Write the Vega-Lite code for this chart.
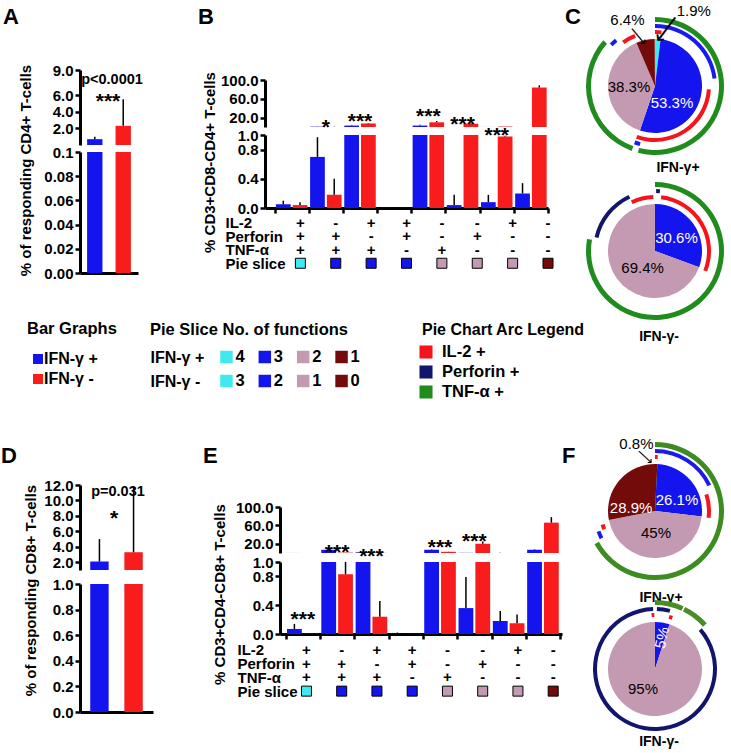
{
"$schema": "https://vega.github.io/schema/vega-lite/v6.json",
"padding": 0,
"background": "white",
"spacing": 0,
"bounds": "full",
"resolve": {"scale": {"color": "independent", "xOffset": "independent", "theta": "independent"}},
"config": {
  "font": "Liberation Sans",
  "view": {"stroke": null},
  "axis": {"grid": false, "domainColor": "#000", "domainWidth": 3, "tickColor": "#000", "tickWidth": 2.5, "tickSize": 5, "labelFontSize": 15, "labelFontWeight": "bold", "labelColor": "#000", "labelPadding": 2, "labelFlush": false, "labelOverlap": false, "titleFontSize": 15, "titleFontWeight": "bold", "titleColor": "#000"},
  "title": {"fontWeight": "bold", "color": "#000", "offset": 0, "anchor": "start", "frame": "group"}
},
"datasets": {
  "a": [{"ifn": "IFN-γ +", "v": 0.7, "e": 1.0}, {"ifn": "IFN-γ -", "v": 2.3, "e": 5.5}],
  "d": [{"ifn": "IFN-γ +", "v": 2.1, "e": 5.0}, {"ifn": "IFN-γ -", "v": 3.3, "e": 11.8}],
  "cd4": [
    {"g": "1", "ifn": "IFN-γ +", "v": 0.05, "e": 0.10}, {"g": "1", "ifn": "IFN-γ -", "v": 0.04, "e": 0.08},
    {"g": "2", "ifn": "IFN-γ +", "v": 0.70, "e": 0.97}, {"g": "2", "ifn": "IFN-γ -", "v": 0.18, "e": 0.40},
    {"g": "3", "ifn": "IFN-γ +", "v": 3.0, "e": 4.0}, {"g": "3", "ifn": "IFN-γ -", "v": 7.5, "e": 8.5},
    {"g": "4", "ifn": "IFN-γ +", "v": 0.002, "e": 0.004}, {"g": "4", "ifn": "IFN-γ -", "v": 0.001, "e": 0.002},
    {"g": "5", "ifn": "IFN-γ +", "v": 3.0, "e": 5.0}, {"g": "5", "ifn": "IFN-γ -", "v": 10.0, "e": 13.0},
    {"g": "6", "ifn": "IFN-γ +", "v": 0.04, "e": 0.18}, {"g": "6", "ifn": "IFN-γ -", "v": 7.0, "e": 8.0},
    {"g": "7", "ifn": "IFN-γ +", "v": 0.08, "e": 0.18}, {"g": "7", "ifn": "IFN-γ -", "v": 0.98, "e": 0.99},
    {"g": "8", "ifn": "IFN-γ +", "v": 0.20, "e": 0.34}, {"g": "8", "ifn": "IFN-γ -", "v": 84.0, "e": 88.6}
  ],
  "cd8": [
    {"g": "1", "ifn": "IFN-γ +", "v": 0.07, "e": 0.14}, {"g": "1", "ifn": "IFN-γ -", "v": 0.003, "e": 0.005},
    {"g": "2", "ifn": "IFN-γ +", "v": 7.0, "e": 8.0}, {"g": "2", "ifn": "IFN-γ -", "v": 0.83, "e": 1.0},
    {"g": "3", "ifn": "IFN-γ +", "v": 1.5, "e": 2.0}, {"g": "3", "ifn": "IFN-γ -", "v": 0.24, "e": 0.46},
    {"g": "4", "ifn": "IFN-γ +", "v": 0.003, "e": 0.02}, {"g": "4", "ifn": "IFN-γ -", "v": 0.002, "e": 0.01},
    {"g": "5", "ifn": "IFN-γ +", "v": 7.0, "e": 8.0}, {"g": "5", "ifn": "IFN-γ -", "v": 2.5, "e": 3.0},
    {"g": "6", "ifn": "IFN-γ +", "v": 0.36, "e": 0.79}, {"g": "6", "ifn": "IFN-γ -", "v": 20.0, "e": 25.0},
    {"g": "7", "ifn": "IFN-γ +", "v": 0.18, "e": 0.32}, {"g": "7", "ifn": "IFN-γ -", "v": 0.15, "e": 0.27},
    {"g": "8", "ifn": "IFN-γ +", "v": 7.0, "e": 8.0}, {"g": "8", "ifn": "IFN-γ -", "v": 66.0, "e": 78.0}
  ],
  "sig4": [{"g": "2", "s": "*", "lvl": 1.02}, {"g": "3", "s": "***", "lvl": 1.09}, {"g": "5", "s": "***", "lvl": 1.16}, {"g": "6", "s": "***", "lvl": 1.06}, {"g": "7", "s": "***", "lvl": 0.91}],
  "sig8": [{"g": "1", "s": "***", "lvl": 0.107}, {"g": "2", "s": "***", "lvl": 1.04}, {"g": "3", "s": "***", "lvl": 0.98}, {"g": "5", "s": "***", "lvl": 1.11}, {"g": "6", "s": "***", "lvl": 1.20}],
  "groups": [
    {"g": "1", "IL-2": "+", "Perforin": "+", "TNF-α": "+", "slice": "c4"},
    {"g": "2", "IL-2": "-", "Perforin": "+", "TNF-α": "+", "slice": "c3"},
    {"g": "3", "IL-2": "+", "Perforin": "-", "TNF-α": "+", "slice": "c3"},
    {"g": "4", "IL-2": "+", "Perforin": "+", "TNF-α": "-", "slice": "c3"},
    {"g": "5", "IL-2": "-", "Perforin": "-", "TNF-α": "+", "slice": "c2"},
    {"g": "6", "IL-2": "-", "Perforin": "+", "TNF-α": "-", "slice": "c2"},
    {"g": "7", "IL-2": "+", "Perforin": "-", "TNF-α": "-", "slice": "c2"},
    {"g": "8", "IL-2": "-", "Perforin": "-", "TNF-α": "-", "slice": "c1"}
  ],
  "slices": [
    {"pie": "C+", "k": "c4", "pct": 1.9, "o": 1}, {"pie": "C+", "k": "c3", "pct": 53.3, "o": 2}, {"pie": "C+", "k": "c2", "pct": 38.3, "o": 3}, {"pie": "C+", "k": "c1", "pct": 6.4, "o": 4},
    {"pie": "C-", "k": "c3", "pct": 30.6, "o": 1}, {"pie": "C-", "k": "c2", "pct": 69.4, "o": 2},
    {"pie": "F+", "k": "c4", "pct": 0.8, "o": 1}, {"pie": "F+", "k": "c3", "pct": 26.1, "o": 2}, {"pie": "F+", "k": "c2", "pct": 45, "o": 3}, {"pie": "F+", "k": "c1", "pct": 28.9, "o": 4},
    {"pie": "F-", "k": "c3", "pct": 5, "o": 1}, {"pie": "F-", "k": "c2", "pct": 95, "o": 2}
  ],
  "rings": [
    {"pie": "C+", "ring": "IL-2", "t0": 0, "t1": 1.9}, {"pie": "C+", "ring": "IL-2", "t0": 26, "t1": 55.5}, {"pie": "C+", "ring": "IL-2", "t0": 90, "t1": 94},
    {"pie": "C+", "ring": "Perforin", "t0": 0, "t1": 23}, {"pie": "C+", "ring": "Perforin", "t0": 54, "t1": 55.5}, {"pie": "C+", "ring": "Perforin", "t0": 87, "t1": 88.8},
    {"pie": "C+", "ring": "TNF-α", "t0": 0, "t1": 54}, {"pie": "C+", "ring": "TNF-α", "t0": 55.5, "t1": 86.5},
    {"pie": "C-", "ring": "IL-2", "t0": 1.8, "t1": 31}, {"pie": "C-", "ring": "IL-2", "t0": 92.9, "t1": 99.5},
    {"pie": "C-", "ring": "Perforin", "t0": 0.3, "t1": 1.3}, {"pie": "C-", "ring": "Perforin", "t0": 78.6, "t1": 93},
    {"pie": "C-", "ring": "TNF-α", "t0": 0, "t1": 77.8},
    {"pie": "F+", "ring": "IL-2", "t0": 0, "t1": 0.8}, {"pie": "F+", "ring": "IL-2", "t0": 20, "t1": 27}, {"pie": "F+", "ring": "IL-2", "t0": 69.5, "t1": 71},
    {"pie": "F+", "ring": "Perforin", "t0": 0, "t1": 18}, {"pie": "F+", "ring": "Perforin", "t0": 67.5, "t1": 69.5},
    {"pie": "F+", "ring": "TNF-α", "t0": 0, "t1": 67},
    {"pie": "F-", "ring": "IL-2", "t0": 4.2, "t1": 5.2}, {"pie": "F-", "ring": "IL-2", "t0": 99, "t1": 99.8},
    {"pie": "F-", "ring": "Perforin", "t0": 0.5, "t1": 4}, {"pie": "F-", "ring": "Perforin", "t0": 13.6, "t1": 99.5},
    {"pie": "F-", "ring": "TNF-α", "t0": 0, "t1": 6.8}, {"pie": "F-", "ring": "TNF-α", "t0": 7.2, "t1": 13.5}
  ]
},
"hconcat": [
{
  "vconcat": [
    {
      "hconcat": [
        {"width": 3, "height": 1, "data": {"values": []}, "mark": "point"},
        {
          "vconcat": [
            {"width": 70, "height": 70, "data": {"values": []}, "mark": "point", "title": {"text": "A", "fontSize": 22, "dx": -77, "dy": 33}},
            {
              "width": 58, "height": 75,
              "layer": [
                {"data": {"name": "a"}, "mark": {"type": "bar", "clip": true},
                 "encoding": {
                   "x": {"field": "ifn", "type": "nominal", "scale": {"domain": ["IFN-γ +", "IFN-γ -"], "paddingInner": 0.46, "paddingOuter": 0.25}, "axis": null},
                   "y": {"field": "v", "type": "quantitative", "scale": {"domain": [0.5, 9]}, "axis": {"values": [2, 4, 6, 9], "tickCount": 20, "format": ".1f", "title": null, "labelOverlap": false}},
                   "y2": {"datum": 0},
                   "color": {"field": "ifn", "type": "nominal", "scale": {"domain": ["IFN-γ +", "IFN-γ -"], "range": ["#1414EE", "#F81C1C"]}, "legend": null}}},
                {"data": {"name": "a"}, "mark": {"type": "rule", "clip": true, "color": "#000", "strokeWidth": 1.5},
                 "encoding": {"x": {"field": "ifn", "type": "nominal"}, "y": {"field": "v", "type": "quantitative"}, "y2": {"field": "e"}}},
                {"data": {"values": [{"t": "p<0.0001"}]}, "mark": {"type": "text", "fontSize": 14.5, "fontWeight": "bold", "baseline": "alphabetic", "dx": 3},
                 "encoding": {"text": {"field": "t"}, "y": {"datum": 7.3}}},
                {"data": {"values": [{"t": "***"}]}, "mark": {"type": "text", "fontSize": 21, "fontWeight": "bold", "baseline": "alphabetic", "dx": -1},
                 "encoding": {"text": {"field": "t"}, "y": {"datum": 4.5}}}
              ]
            },
            {"width": 58, "height": 7, "data": {"values": []}, "mark": "point"},
            {
              "width": 58, "height": 121,
              "data": {"name": "a"},
              "encoding": {"x": {"field": "ifn", "type": "nominal", "scale": {"domain": ["IFN-γ +", "IFN-γ -"], "paddingInner": 0.46, "paddingOuter": 0.25}, "axis": {"labels": false, "ticks": false, "title": null}}},
              "layer": [
                {"mark": {"type": "bar", "clip": true},
                 "encoding": {
                   "y": {"field": "v", "type": "quantitative", "scale": {"domain": [0, 0.1]}, "axis": {"values": [0, 0.02, 0.04, 0.06, 0.08, 0.1], "tickCount": 20, "labelOverlap": false, "labelExpr": "datum.value > 0.099 ? '0.1' : format(datum.value, '.2f')", "title": "% of responding CD4+ T-cells", "titleX": -46.7, "titleY": 18}},
                   "y2": {"datum": 0},
                   "color": {"field": "ifn", "type": "nominal", "scale": {"domain": ["IFN-γ +", "IFN-γ -"], "range": ["#1414EE", "#F81C1C"]}, "legend": null}}},
                {"mark": {"type": "rule", "clip": true, "color": "#000", "strokeWidth": 1.5},
                 "encoding": {"y": {"field": "v", "type": "quantitative"}, "y2": {"field": "e"}}}
              ]
            },
            {"width": 58, "height": 47, "data": {"values": []}, "mark": "point"}
          ],
          "spacing": 0, "bounds": "flush",
          "resolve": {"scale": {"color": "independent", "xOffset": "independent", "theta": "independent"}}
        },
        {"width": 48, "height": 1, "data": {"values": []}, "mark": "point"},
        {
          "vconcat": [
            {"width": 321, "height": 1, "data": {"values": []}, "mark": "point", "title": {"text": "C", "fontSize": 22, "dx": 300, "dy": 33}},
            {"width": 283, "height": 79, "data": {"values": []}, "mark": "point", "title": {"text": "B", "fontSize": 22, "dx": -67, "dy": 32}},
            {
              "width": 283, "height": 47,
              "data": {"name": "cd4"},
              "encoding": {"x": {"field": "g", "type": "nominal", "scale": {"domain": ["1", "2", "3", "4", "5", "6", "7", "8"], "paddingInner": 0, "paddingOuter": 0.14, "align": 1}, "axis": null}},
              "layer": [
                {"mark": {"type": "bar", "clip": true},
                 "encoding": {
                   "xOffset": {"field": "ifn", "type": "nominal", "scale": {"domain": ["IFN-γ +", "IFN-γ -"], "paddingInner": 0.12, "paddingOuter": 0.08}},
                   "y": {"field": "v", "type": "quantitative", "scale": {"domain": [6, 100]}, "axis": {"values": [20, 60, 100], "tickCount": 20, "format": ".1f", "title": null, "labelOverlap": false}},
                   "y2": {"datum": 0},
                   "color": {"field": "ifn", "type": "nominal", "scale": {"domain": ["IFN-γ +", "IFN-γ -"], "range": ["#1414EE", "#F81C1C"]}, "legend": null}}},
                {"mark": {"type": "rule", "clip": true, "color": "#000", "strokeWidth": 1.5},
                 "encoding": {"xOffset": {"field": "ifn", "type": "nominal"}, "y": {"field": "v", "type": "quantitative"}, "y2": {"field": "e"}}}
              ]
            },
            {"width": 283, "height": 8, "data": {"values": []}, "mark": "point"},
            {
              "width": 283, "height": 73,
              "encoding": {"x": {"field": "g", "type": "nominal", "scale": {"domain": ["1", "2", "3", "4", "5", "6", "7", "8"], "paddingInner": 0, "paddingOuter": 0.14, "align": 1}, "axis": {"labels": false, "title": null, "tickBand": "extent"}}},
              "layer": [
                {"data": {"name": "cd4"}, "mark": {"type": "bar", "clip": true},
                 "encoding": {
                   "xOffset": {"field": "ifn", "type": "nominal", "scale": {"domain": ["IFN-γ +", "IFN-γ -"], "paddingInner": 0.12, "paddingOuter": 0.08}},
                   "y": {"field": "v", "type": "quantitative", "scale": {"domain": [0, 1]}, "axis": {"values": [0, 0.4, 0.8, 1.0], "tickCount": 20, "format": ".1f", "labelOverlap": false, "title": "% CD3+CD8-CD4+ T-cells", "titleX": -48, "titleY": 27}},
                   "y2": {"datum": 0},
                   "color": {"field": "ifn", "type": "nominal", "scale": {"domain": ["IFN-γ +", "IFN-γ -"], "range": ["#1414EE", "#F81C1C"]}, "legend": null}}},
                {"data": {"name": "cd4"}, "mark": {"type": "rule", "clip": true, "color": "#000", "strokeWidth": 1.5},
                 "encoding": {"xOffset": {"field": "ifn", "type": "nominal"}, "y": {"field": "v", "type": "quantitative"}, "y2": {"field": "e"}}},
                {"data": {"name": "sig4"}, "mark": {"type": "text", "fontSize": 21, "fontWeight": "bold", "baseline": "alphabetic"},
                 "encoding": {"y": {"field": "lvl", "type": "quantitative"}, "text": {"field": "s"}}}
              ]
            },
            {"width": 283, "height": 8, "data": {"values": []}, "mark": "point"},
            {
              "width": 283, "height": 54,
              "data": {"name": "groups"},
              "encoding": {"x": {"field": "g", "type": "nominal", "scale": {"domain": ["1", "2", "3", "4", "5", "6", "7", "8"], "paddingInner": 0, "paddingOuter": 0.14, "align": 1}, "axis": null}},
              "layer": [
                {"transform": [{"fold": ["IL-2", "Perforin", "TNF-α"], "as": ["row", "sign"]}],
                 "mark": {"type": "text", "fontSize": 15, "fontWeight": "bold", "baseline": "middle"},
                 "encoding": {
                   "y": {"field": "row", "type": "nominal", "scale": {"type": "point", "domain": ["IL-2", "Perforin", "TNF-α", "Pie slice"], "padding": 0.5}, "axis": {"title": null, "domain": false, "ticks": false, "tickSize": 0, "labelAlign": "left", "labelPadding": 40, "labelBaseline": "middle", "labelOverlap": false}},
                   "text": {"field": "sign"}}},
                {"mark": {"type": "square", "size": 100, "opacity": 1, "stroke": "#000", "strokeWidth": 1},
                 "encoding": {
                   "y": {"datum": "Pie slice", "type": "nominal"},
                   "color": {"field": "slice", "type": "nominal", "scale": {"domain": ["c4", "c3", "c2", "c1"], "range": ["#40E8F0", "#1414EE", "#C49AB2", "#740B0B"]}, "legend": null}}}
              ]
            },
            {"width": 283, "height": 50, "data": {"values": []}, "mark": "point"}
          ],
          "spacing": 0, "bounds": "flush",
          "resolve": {"scale": {"color": "independent", "xOffset": "independent", "theta": "independent"}}
        }
      ],
      "spacing": 0, "bounds": "full",
      "resolve": {"scale": {"color": "independent", "xOffset": "independent", "theta": "independent"}}
    },
    {
      "hconcat": [
        {"width": 33, "height": 121, "data": {"values": []}, "mark": "point"},
        {
          "width": 10, "height": 60,
          "title": {"text": "Bar Graphs", "fontSize": 16.5, "dx": -6, "dy": 17},
          "data": {"values": [{"k": "IFN-γ +"}, {"k": "IFN-γ -"}]},
          "encoding": {"y": {"field": "k", "type": "nominal", "scale": {"type": "point", "domain": ["IFN-γ +", "IFN-γ -"], "padding": 1, "align": 0.875}, "axis": null}},
          "layer": [
            {"mark": {"type": "square", "size": 100, "opacity": 1},
             "encoding": {"color": {"field": "k", "type": "nominal", "scale": {"domain": ["IFN-γ +", "IFN-γ -"], "range": ["#1414EE", "#F81C1C"]}, "legend": null}}},
            {"mark": {"type": "text", "align": "left", "dx": 6, "fontSize": 16, "fontWeight": "bold", "baseline": "middle"},
             "encoding": {"text": {"field": "k"}}}
          ]
        },
        {"width": 164, "height": 1, "data": {"values": []}, "mark": "point"},
        {
          "width": 165, "height": 72,
          "title": {"text": "Pie Slice No. of functions", "fontSize": 16.5, "dx": -57, "dy": 18},
          "data": {"values": [
            {"r": "IFN-γ +", "c": "1", "n": "4", "s": "c4"}, {"r": "IFN-γ +", "c": "2", "n": "3", "s": "c3"}, {"r": "IFN-γ +", "c": "3", "n": "2", "s": "c2"}, {"r": "IFN-γ +", "c": "4", "n": "1", "s": "c1"},
            {"r": "IFN-γ -", "c": "1", "n": "3", "s": "c4"}, {"r": "IFN-γ -", "c": "2", "n": "2", "s": "c3"}, {"r": "IFN-γ -", "c": "3", "n": "1", "s": "c2"}, {"r": "IFN-γ -", "c": "4", "n": "0", "s": "c1"}
          ]},
          "encoding": {
            "x": {"field": "c", "type": "ordinal", "scale": {"type": "point", "padding": 0.65}, "axis": null},
            "y": {"field": "r", "type": "nominal", "scale": {"type": "point", "domain": ["IFN-γ +", "IFN-γ -"], "padding": 1, "align": 0.6875}, "axis": {"title": null, "domain": false, "ticks": false, "tickSize": 0, "labelAlign": "left", "labelPadding": 57, "labelFontSize": 16, "labelBaseline": "middle", "labelOverlap": false}}
          },
          "layer": [
            {"mark": {"type": "square", "size": 156, "opacity": 1, "xOffset": -5.5},
             "encoding": {"color": {"field": "s", "type": "nominal", "scale": {"domain": ["c4", "c3", "c2", "c1"], "range": ["#40E8F0", "#1414EE", "#C49AB2", "#740B0B"]}, "legend": null}}},
            {"mark": {"type": "text", "align": "left", "dx": 3.5, "fontSize": 16.5, "fontWeight": "bold", "baseline": "middle"},
             "encoding": {"text": {"field": "n"}}}
          ]
        },
        {"width": 47, "height": 1, "data": {"values": []}, "mark": "point"},
        {
          "width": 14, "height": 80,
          "title": {"text": "Pie Chart Arc Legend", "fontSize": 16, "dx": 3, "dy": 18},
          "data": {"values": [{"k": "IL-2 +"}, {"k": "Perforin +"}, {"k": "TNF-α +"}]},
          "encoding": {"y": {"field": "k", "type": "nominal", "scale": {"type": "point", "domain": ["IL-2 +", "Perforin +", "TNF-α +"], "padding": 1, "align": 0.7}, "axis": null}},
          "layer": [
            {"mark": {"type": "square", "size": 170, "opacity": 1},
             "encoding": {"color": {"field": "k", "type": "nominal", "scale": {"domain": ["IL-2 +", "Perforin +", "TNF-α +"], "range": ["#F5141B", "#11166C", "#208C1E"]}, "legend": null}}},
            {"mark": {"type": "text", "align": "left", "dx": 16, "fontSize": 16.5, "fontWeight": "bold", "baseline": "middle"},
             "encoding": {"text": {"field": "k"}}}
          ]
        }
      ],
      "spacing": 0, "bounds": "flush",
      "resolve": {"scale": {"color": "independent", "xOffset": "independent", "theta": "independent"}}
    },
    {
      "hconcat": [
        {"width": 1, "height": 1, "data": {"values": []}, "mark": "point"},
        {
          "vconcat": [
            {"width": 80, "height": 39, "data": {"values": []}, "mark": "point", "title": {"text": "D", "fontSize": 22, "dx": -79, "dy": 26}},
            {
              "width": 73, "height": 85,
              "layer": [
                {"data": {"name": "d"}, "mark": {"type": "bar", "clip": true},
                 "encoding": {
                   "x": {"field": "ifn", "type": "nominal", "scale": {"domain": ["IFN-γ +", "IFN-γ -"], "paddingInner": 0.46, "paddingOuter": 0.3}, "axis": null},
                   "y": {"field": "v", "type": "quantitative", "scale": {"domain": [1.2, 12]}, "axis": {"values": [2, 4, 6, 8, 10, 12], "tickCount": 20, "format": ".1f", "title": null, "labelOverlap": false}},
                   "y2": {"datum": 0},
                   "color": {"field": "ifn", "type": "nominal", "scale": {"domain": ["IFN-γ +", "IFN-γ -"], "range": ["#1414EE", "#F81C1C"]}, "legend": null}}},
                {"data": {"name": "d"}, "mark": {"type": "rule", "clip": true, "color": "#000", "strokeWidth": 1.5},
                 "encoding": {"x": {"field": "ifn", "type": "nominal"}, "y": {"field": "v", "type": "quantitative"}, "y2": {"field": "e"}}},
                {"data": {"values": [{"t": "p=0.031"}]}, "mark": {"type": "text", "fontSize": 14.5, "fontWeight": "bold", "baseline": "alphabetic", "dx": 1.5},
                 "encoding": {"text": {"field": "t"}, "y": {"datum": 10.6}}},
                {"data": {"values": [{"t": "*"}]}, "mark": {"type": "text", "fontSize": 21, "fontWeight": "bold", "baseline": "alphabetic", "dx": -2.5},
                 "encoding": {"text": {"field": "t"}, "y": {"datum": 6.8}}}
              ]
            },
            {"width": 73, "height": 14, "data": {"values": []}, "mark": "point"},
            {
              "width": 73, "height": 128,
              "data": {"name": "d"},
              "encoding": {"x": {"field": "ifn", "type": "nominal", "scale": {"domain": ["IFN-γ +", "IFN-γ -"], "paddingInner": 0.46, "paddingOuter": 0.3}, "axis": {"labels": false, "ticks": false, "title": null}}},
              "layer": [
                {"mark": {"type": "bar", "clip": true},
                 "encoding": {
                   "y": {"field": "v", "type": "quantitative", "scale": {"domain": [0, 1]}, "axis": {"values": [0, 0.2, 0.4, 0.6, 0.8, 1.0], "tickCount": 20, "format": ".1f", "labelOverlap": false, "title": "% of responding CD8+ T-cells", "titleX": -41.7, "titleY": 6}},
                   "y2": {"datum": 0},
                   "color": {"field": "ifn", "type": "nominal", "scale": {"domain": ["IFN-γ +", "IFN-γ -"], "range": ["#1414EE", "#F81C1C"]}, "legend": null}}},
                {"mark": {"type": "rule", "clip": true, "color": "#000", "strokeWidth": 1.5},
                 "encoding": {"y": {"field": "v", "type": "quantitative"}, "y2": {"field": "e"}}}
              ]
            }
          ],
          "spacing": 0, "bounds": "flush",
          "resolve": {"scale": {"color": "independent", "xOffset": "independent", "theta": "independent"}}
        },
        {"width": 43, "height": 1, "data": {"values": []}, "mark": "point"},
        {
          "vconcat": [
            {"width": 306, "height": 1, "data": {"values": []}, "mark": "point", "title": {"text": "F", "fontSize": 22, "dx": 282, "dy": 26}},
            {"width": 282, "height": 60, "data": {"values": []}, "mark": "point", "title": {"text": "E", "fontSize": 22, "dx": -77, "dy": 25}},
            {
              "width": 282, "height": 46,
              "data": {"name": "cd8"},
              "encoding": {"x": {"field": "g", "type": "nominal", "scale": {"domain": ["1", "2", "3", "4", "5", "6", "7", "8"], "paddingInner": 0, "paddingOuter": 0.11, "align": 0.75}, "axis": null}},
              "layer": [
                {"mark": {"type": "bar", "clip": true},
                 "encoding": {
                   "xOffset": {"field": "ifn", "type": "nominal", "scale": {"domain": ["IFN-γ +", "IFN-γ -"], "paddingInner": 0.12, "paddingOuter": 0.08}},
                   "y": {"field": "v", "type": "quantitative", "scale": {"domain": [3, 100]}, "axis": {"values": [20, 60, 100], "tickCount": 20, "format": ".1f", "title": null, "labelOverlap": false}},
                   "y2": {"datum": 0},
                   "color": {"field": "ifn", "type": "nominal", "scale": {"domain": ["IFN-γ +", "IFN-γ -"], "range": ["#1414EE", "#F81C1C"]}, "legend": null}}},
                {"mark": {"type": "rule", "clip": true, "color": "#000", "strokeWidth": 1.5},
                 "encoding": {"xOffset": {"field": "ifn", "type": "nominal"}, "y": {"field": "v", "type": "quantitative"}, "y2": {"field": "e"}}}
              ]
            },
            {"width": 282, "height": 9, "data": {"values": []}, "mark": "point"},
            {
              "width": 282, "height": 72,
              "encoding": {"x": {"field": "g", "type": "nominal", "scale": {"domain": ["1", "2", "3", "4", "5", "6", "7", "8"], "paddingInner": 0, "paddingOuter": 0.11, "align": 0.75}, "axis": {"labels": false, "title": null, "tickBand": "extent"}}},
              "layer": [
                {"data": {"name": "cd8"}, "mark": {"type": "bar", "clip": true},
                 "encoding": {
                   "xOffset": {"field": "ifn", "type": "nominal", "scale": {"domain": ["IFN-γ +", "IFN-γ -"], "paddingInner": 0.12, "paddingOuter": 0.08}},
                   "y": {"field": "v", "type": "quantitative", "scale": {"domain": [0, 1]}, "axis": {"values": [0, 0.4, 0.8, 1.0], "tickCount": 20, "format": ".1f", "labelOverlap": false, "title": "% CD3+CD4-CD8+ T-cells", "titleX": -53, "titleY": 32}},
                   "y2": {"datum": 0},
                   "color": {"field": "ifn", "type": "nominal", "scale": {"domain": ["IFN-γ +", "IFN-γ -"], "range": ["#1414EE", "#F81C1C"]}, "legend": null}}},
                {"data": {"name": "cd8"}, "mark": {"type": "rule", "clip": true, "color": "#000", "strokeWidth": 1.5},
                 "encoding": {"xOffset": {"field": "ifn", "type": "nominal"}, "y": {"field": "v", "type": "quantitative"}, "y2": {"field": "e"}}},
                {"data": {"name": "sig8"}, "mark": {"type": "text", "fontSize": 21, "fontWeight": "bold", "baseline": "alphabetic"},
                 "encoding": {"y": {"field": "lvl", "type": "quantitative"}, "text": {"field": "s"}}}
              ]
            },
            {"width": 282, "height": 9, "data": {"values": []}, "mark": "point"},
            {
              "width": 282, "height": 55,
              "data": {"name": "groups"},
              "encoding": {"x": {"field": "g", "type": "nominal", "scale": {"domain": ["1", "2", "3", "4", "5", "6", "7", "8"], "paddingInner": 0, "paddingOuter": 0.11, "align": 0.75}, "axis": null}},
              "layer": [
                {"transform": [{"fold": ["IL-2", "Perforin", "TNF-α"], "as": ["row", "sign"]}],
                 "mark": {"type": "text", "fontSize": 15, "fontWeight": "bold", "baseline": "middle"},
                 "encoding": {
                   "y": {"field": "row", "type": "nominal", "scale": {"type": "point", "domain": ["IL-2", "Perforin", "TNF-α", "Pie slice"], "padding": 0.5}, "axis": {"title": null, "domain": false, "ticks": false, "tickSize": 0, "labelAlign": "left", "labelPadding": 43, "labelBaseline": "middle", "labelOverlap": false}},
                   "text": {"field": "sign"}}},
                {"mark": {"type": "square", "size": 100, "opacity": 1, "stroke": "#000", "strokeWidth": 1},
                 "encoding": {
                   "y": {"datum": "Pie slice", "type": "nominal"},
                   "color": {"field": "slice", "type": "nominal", "scale": {"domain": ["c4", "c3", "c2", "c1"], "range": ["#40E8F0", "#1414EE", "#C49AB2", "#740B0B"]}, "legend": null}}}
              ]
            }
          ],
          "spacing": 0, "bounds": "flush",
          "resolve": {"scale": {"color": "independent", "xOffset": "independent", "theta": "independent"}}
        }
      ],
      "spacing": 0, "bounds": "full",
      "resolve": {"scale": {"color": "independent", "xOffset": "independent", "theta": "independent"}}
    }
  ],
  "spacing": 0, "bounds": "full",
  "resolve": {"scale": {"color": "independent", "xOffset": "independent", "theta": "independent"}}
},
{
  "vconcat": [
    {"width": 138, "height": 17, "data": {"values": []}, "mark": "point"},
    {
      "width": 138, "height": 138,
      "title": {"text": "IFN-γ+", "orient": "bottom", "anchor": "middle", "fontSize": 14, "dx": 23, "dy": 2},
      "layer": [
        {"data": {"name": "slices"}, "transform": [{"filter": "datum.pie == 'C+'"}], "mark": {"type": "arc", "radius": 47},
         "encoding": {"theta": {"field": "pct", "type": "quantitative", "stack": true, "scale": {"domain": [0, 100], "range": [0, 6.283185307179586]}}, "order": {"field": "o", "type": "quantitative"},
           "color": {"field": "k", "type": "nominal", "scale": {"domain": ["c4", "c3", "c2", "c1", "IL-2", "Perforin", "TNF-α"], "range": ["#40E8F0", "#1414EE", "#C49AB2", "#740B0B", "#F5141B", "#1A1AEE", "#208C1E"]}, "legend": null}}},
        {"data": {"name": "rings"}, "transform": [{"filter": "datum.pie == 'C+' && datum.ring == 'IL-2'"}], "mark": {"type": "arc", "radius": 56, "radius2": 52},
         "encoding": {"theta": {"field": "t0", "type": "quantitative", "stack": null}, "theta2": {"field": "t1"}, "color": {"field": "ring", "type": "nominal"}}},
        {"data": {"name": "rings"}, "transform": [{"filter": "datum.pie == 'C+' && datum.ring == 'Perforin'"}], "mark": {"type": "arc", "radius": 62, "radius2": 58},
         "encoding": {"theta": {"field": "t0", "type": "quantitative", "stack": null}, "theta2": {"field": "t1"}, "color": {"field": "ring", "type": "nominal"}}},
        {"data": {"name": "rings"}, "transform": [{"filter": "datum.pie == 'C+' && datum.ring == 'TNF-α'"}], "mark": {"type": "arc", "radius": 69, "radius2": 64},
         "encoding": {"theta": {"field": "t0", "type": "quantitative", "stack": null}, "theta2": {"field": "t1"}, "color": {"field": "ring", "type": "nominal"}}},
        {"data": {"values": [{"t": "53.3%"}]}, "mark": {"type": "text", "radius": 24, "fontSize": 15, "color": "#fff", "baseline": "middle"},
         "encoding": {"theta": {"datum": 37.5, "type": "quantitative"}, "text": {"field": "t"}}},
        {"data": {"values": [{"t": "38.3%"}]}, "mark": {"type": "text", "radius": 26, "fontSize": 15, "color": "#000", "baseline": "middle"},
         "encoding": {"theta": {"datum": 74.5, "type": "quantitative"}, "text": {"field": "t"}}},
        {"data": {"values": [{"t": "6.4%"}]}, "mark": {"type": "text", "radius": 71.5, "fontSize": 15, "color": "#000", "baseline": "middle"},
         "encoding": {"theta": {"datum": 93.7, "type": "quantitative"}, "text": {"field": "t"}}},
        {"data": {"values": [{"t": "1.9%"}]}, "mark": {"type": "text", "radius": 84.5, "fontSize": 15, "color": "#000", "baseline": "middle"},
         "encoding": {"theta": {"datum": 7.6, "type": "quantitative"}, "text": {"field": "t"}}},
        {"data": {"values": [{"t": "⟶"}]}, "mark": {"type": "text", "radius": 58, "angle": 127, "font": "DejaVu Sans", "fontSize": 22, "color": "#000", "baseline": "middle"},
         "encoding": {"theta": {"datum": 3.2, "type": "quantitative"}, "text": {"field": "t"}}},
        {"data": {"values": [{"t": "⟶"}]}, "mark": {"type": "text", "radius": 52.6, "angle": 50, "font": "DejaVu Sans", "fontSize": 15, "color": "#000", "baseline": "middle"},
         "encoding": {"theta": {"datum": 94.9, "type": "quantitative"}, "text": {"field": "t"}}}
      ]
    },
    {"width": 138, "height": 27, "data": {"values": []}, "mark": "point"},
    {
      "width": 138, "height": 138,
      "title": {"text": "IFN-γ-", "orient": "bottom", "anchor": "middle", "fontSize": 14, "dx": 4, "dy": 6},
      "layer": [
        {"data": {"name": "slices"}, "transform": [{"filter": "datum.pie == 'C-'"}], "mark": {"type": "arc", "radius": 47},
         "encoding": {"theta": {"field": "pct", "type": "quantitative", "stack": true, "scale": {"domain": [0, 100], "range": [0, 6.283185307179586]}}, "order": {"field": "o", "type": "quantitative"},
           "color": {"field": "k", "type": "nominal", "scale": {"domain": ["c4", "c3", "c2", "c1", "IL-2", "Perforin", "TNF-α"], "range": ["#40E8F0", "#1414EE", "#C49AB2", "#740B0B", "#F5141B", "#11166C", "#208C1E"]}, "legend": null}}},
        {"data": {"name": "rings"}, "transform": [{"filter": "datum.pie == 'C-' && datum.ring == 'IL-2'"}], "mark": {"type": "arc", "radius": 56, "radius2": 52},
         "encoding": {"theta": {"field": "t0", "type": "quantitative", "stack": null}, "theta2": {"field": "t1"}, "color": {"field": "ring", "type": "nominal"}}},
        {"data": {"name": "rings"}, "transform": [{"filter": "datum.pie == 'C-' && datum.ring == 'Perforin'"}], "mark": {"type": "arc", "radius": 62, "radius2": 58},
         "encoding": {"theta": {"field": "t0", "type": "quantitative", "stack": null}, "theta2": {"field": "t1"}, "color": {"field": "ring", "type": "nominal"}}},
        {"data": {"name": "rings"}, "transform": [{"filter": "datum.pie == 'C-' && datum.ring == 'TNF-α'"}], "mark": {"type": "arc", "radius": 69, "radius2": 64},
         "encoding": {"theta": {"field": "t0", "type": "quantitative", "stack": null}, "theta2": {"field": "t1"}, "color": {"field": "ring", "type": "nominal"}}},
        {"data": {"values": [{"t": "30.6%"}]}, "mark": {"type": "text", "radius": 25.4, "fontSize": 15, "color": "#fff", "baseline": "middle"},
         "encoding": {"theta": {"datum": 16.1, "type": "quantitative"}, "text": {"field": "t"}}},
        {"data": {"values": [{"t": "69.4%"}]}, "mark": {"type": "text", "radius": 21, "fontSize": 15, "color": "#000", "baseline": "middle"},
         "encoding": {"theta": {"datum": 60.1, "type": "quantitative"}, "text": {"field": "t"}}}
      ]
    },
    {"width": 138, "height": 122, "data": {"values": []}, "mark": "point"},
    {
      "width": 138, "height": 138,
      "title": {"text": "IFN-γ+", "orient": "bottom", "anchor": "middle", "fontSize": 14, "dx": 6, "dy": 7},
      "layer": [
        {"data": {"name": "slices"}, "transform": [{"filter": "datum.pie == 'F+'"}], "mark": {"type": "arc", "radius": 47},
         "encoding": {"theta": {"field": "pct", "type": "quantitative", "stack": true, "scale": {"domain": [0, 100], "range": [0, 6.283185307179586]}}, "order": {"field": "o", "type": "quantitative"},
           "color": {"field": "k", "type": "nominal", "scale": {"domain": ["c4", "c3", "c2", "c1", "IL-2", "Perforin", "TNF-α"], "range": ["#40E8F0", "#1414EE", "#C49AB2", "#740B0B", "#F5141B", "#1A1AEE", "#3C8C22"]}, "legend": null}}},
        {"data": {"name": "rings"}, "transform": [{"filter": "datum.pie == 'F+' && datum.ring == 'IL-2'"}], "mark": {"type": "arc", "radius": 56, "radius2": 52},
         "encoding": {"theta": {"field": "t0", "type": "quantitative", "stack": null}, "theta2": {"field": "t1"}, "color": {"field": "ring", "type": "nominal"}}},
        {"data": {"name": "rings"}, "transform": [{"filter": "datum.pie == 'F+' && datum.ring == 'Perforin'"}], "mark": {"type": "arc", "radius": 62, "radius2": 58},
         "encoding": {"theta": {"field": "t0", "type": "quantitative", "stack": null}, "theta2": {"field": "t1"}, "color": {"field": "ring", "type": "nominal"}}},
        {"data": {"name": "rings"}, "transform": [{"filter": "datum.pie == 'F+' && datum.ring == 'TNF-α'"}], "mark": {"type": "arc", "radius": 69, "radius2": 64},
         "encoding": {"theta": {"field": "t0", "type": "quantitative", "stack": null}, "theta2": {"field": "t1"}, "color": {"field": "ring", "type": "nominal"}}},
        {"data": {"values": [{"t": "26.1%"}]}, "mark": {"type": "text", "radius": 24.6, "fontSize": 15, "color": "#fff", "baseline": "middle"},
         "encoding": {"theta": {"datum": 17.6, "type": "quantitative"}, "text": {"field": "t"}}},
        {"data": {"values": [{"t": "28.9%"}]}, "mark": {"type": "text", "radius": 24, "fontSize": 15, "color": "#fff", "baseline": "middle"},
         "encoding": {"theta": {"datum": 76.7, "type": "quantitative"}, "text": {"field": "t"}}},
        {"data": {"values": [{"t": "45%"}]}, "mark": {"type": "text", "radius": 22.5, "fontSize": 15, "color": "#000", "baseline": "middle"},
         "encoding": {"theta": {"datum": 49.3, "type": "quantitative"}, "text": {"field": "t"}}},
        {"data": {"values": [{"t": "0.8%"}]}, "mark": {"type": "text", "radius": 69.5, "fontSize": 15, "color": "#000", "baseline": "middle"},
         "encoding": {"theta": {"datum": 95.7, "type": "quantitative"}, "text": {"field": "t"}}},
        {"data": {"values": [{"t": "⟶"}]}, "mark": {"type": "text", "radius": 55, "angle": 43, "font": "DejaVu Sans", "fontSize": 13, "color": "#000", "baseline": "middle"},
         "encoding": {"theta": {"datum": 97.1, "type": "quantitative"}, "text": {"field": "t"}}}
      ]
    },
    {"width": 138, "height": 20, "data": {"values": []}, "mark": "point"},
    {
      "width": 138, "height": 138,
      "title": {"text": "IFN-γ-", "orient": "bottom", "anchor": "middle", "fontSize": 14, "dx": 4, "dy": -7},
      "layer": [
        {"data": {"name": "slices"}, "transform": [{"filter": "datum.pie == 'F-'"}], "mark": {"type": "arc", "radius": 47},
         "encoding": {"theta": {"field": "pct", "type": "quantitative", "stack": true, "scale": {"domain": [0, 100], "range": [0, 6.283185307179586]}}, "order": {"field": "o", "type": "quantitative"},
           "color": {"field": "k", "type": "nominal", "scale": {"domain": ["c4", "c3", "c2", "c1", "IL-2", "Perforin", "TNF-α"], "range": ["#40E8F0", "#1414EE", "#C49AB2", "#740B0B", "#F5141B", "#11166C", "#4A8C26"]}, "legend": null}}},
        {"data": {"name": "rings"}, "transform": [{"filter": "datum.pie == 'F-' && datum.ring == 'IL-2'"}], "mark": {"type": "arc", "radius": 56, "radius2": 52},
         "encoding": {"theta": {"field": "t0", "type": "quantitative", "stack": null}, "theta2": {"field": "t1"}, "color": {"field": "ring", "type": "nominal"}}},
        {"data": {"name": "rings"}, "transform": [{"filter": "datum.pie == 'F-' && datum.ring == 'Perforin'"}], "mark": {"type": "arc", "radius": 62, "radius2": 58},
         "encoding": {"theta": {"field": "t0", "type": "quantitative", "stack": null}, "theta2": {"field": "t1"}, "color": {"field": "ring", "type": "nominal"}}},
        {"data": {"name": "rings"}, "transform": [{"filter": "datum.pie == 'F-' && datum.ring == 'TNF-α'"}], "mark": {"type": "arc", "radius": 69, "radius2": 64},
         "encoding": {"theta": {"field": "t0", "type": "quantitative", "stack": null}, "theta2": {"field": "t1"}, "color": {"field": "ring", "type": "nominal"}}},
        {"data": {"values": [{"t": "5%"}]}, "mark": {"type": "text", "radius": 32, "angle": -77, "fontSize": 15, "color": "#fff", "baseline": "middle"},
         "encoding": {"theta": {"datum": 3.5, "type": "quantitative"}, "text": {"field": "t"}}},
        {"data": {"values": [{"t": "95%"}]}, "mark": {"type": "text", "radius": 23.3, "fontSize": 15, "color": "#000", "baseline": "middle"},
         "encoding": {"theta": {"datum": 58.6, "type": "quantitative"}, "text": {"field": "t"}}}
      ]
    }
  ],
  "spacing": 0, "bounds": "flush",
  "resolve": {"scale": {"color": "independent", "xOffset": "independent", "theta": "independent"}}
}
]
}
